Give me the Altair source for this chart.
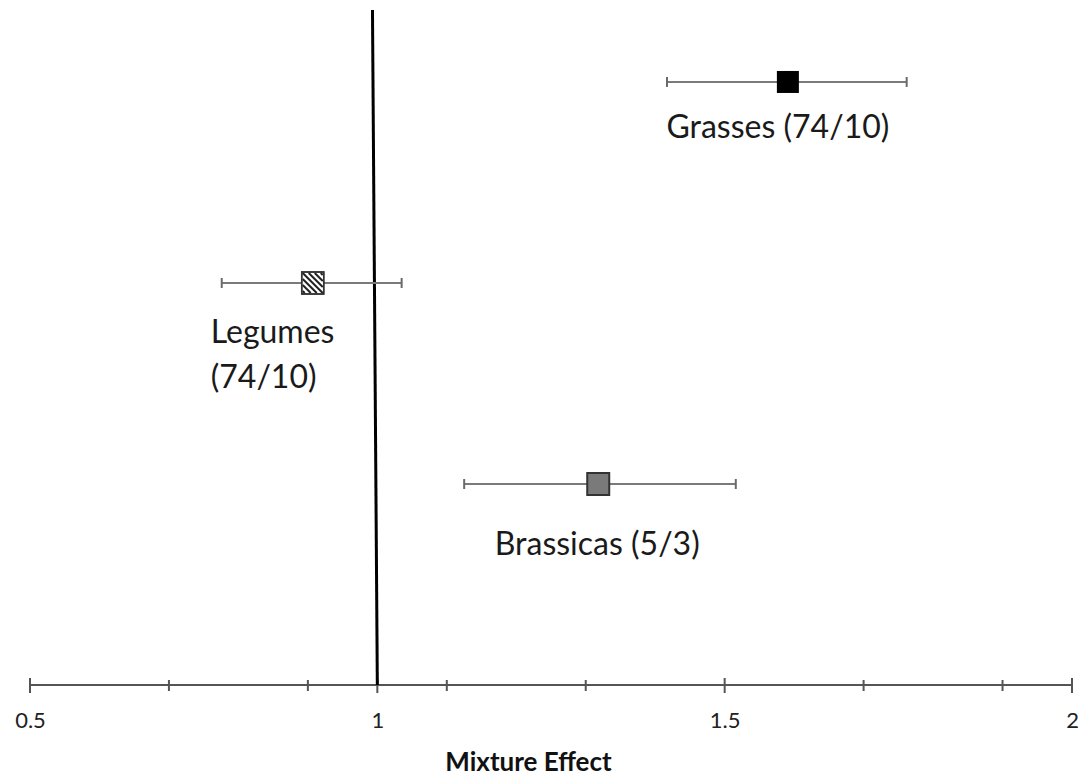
import altair as alt
import pandas as pd

# Mixture effect per crop group, with 95% confidence interval
groups = ["Grasses", "Legumes", "Brassicas"]
labels = ["Grasses (74/10)", "Legumes\n(74/10)", "Brassicas (5/3)"]
effect = [1.591, 0.907, 1.318]
ci_low = [1.417, 0.776, 1.125]
ci_high = [1.762, 1.035, 1.516]
row = [3, 2, 1]

# Axis ticks and labelled values
tick_minor = [0.7, 0.9, 1.1, 1.3, 1.7, 1.9]
tick_major = [0.5, 1.0, 1.5, 2.0]

# Reference line at "no effect" (drawn by hand, slightly leaning)
ref_x = [0.993, 1.0]
ref_y = [3.358, 0.0]

X_DOMAIN = [0.5, 2.0]
Y_DOMAIN = [0, 3.358]
FONT = "Lato"

df = pd.DataFrame({"group": groups, "label": labels, "effect": effect,
                   "lo": ci_low, "hi": ci_high, "row": row})

xs = alt.Scale(domain=X_DOMAIN, nice=False, zero=False)
ys = alt.Scale(domain=Y_DOMAIN, nice=False, zero=False)

base = alt.Chart(df)

x_axis = alt.Axis(values=tick_major, format="~g", grid=False, domain=False, ticks=False,
                  labelFlush=False, labelOverlap=False,
                  labelFont=FONT, labelFontSize=22, labelColor="#222222", labelPadding=25,
                  title="Mixture Effect", titleFont=FONT, titleFontSize=26,
                  titleFontWeight="bold", titleColor="#111111", titlePadding=18,
                  titleX=498, titleAlign="center")

# Horizontal axis line with ticks crossing it
axis_line = alt.Chart(pd.DataFrame({"a": [X_DOMAIN[0]], "b": [X_DOMAIN[1]]})).mark_rule(
    color="#555555", strokeWidth=2
).encode(
    x=alt.X("a:Q", scale=xs, axis=x_axis),
    x2="b:Q",
    y=alt.datum(0, scale=ys, axis=None),
)

minor_ticks = alt.Chart(pd.DataFrame({"t": tick_minor})).mark_rule(
    color="#555555", strokeWidth=2, yOffset=-5, y2Offset=6
).encode(x=alt.X("t:Q", scale=xs), y=alt.datum(0, scale=ys), y2=alt.datum(0))

major_ticks = alt.Chart(pd.DataFrame({"t": tick_major})).mark_rule(
    color="#555555", strokeWidth=2, yOffset=-7, y2Offset=8
).encode(x=alt.X("t:Q", scale=xs), y=alt.datum(0, scale=ys), y2=alt.datum(0))

ref_line = alt.Chart(pd.DataFrame({"x": [ref_x[0]], "y": [ref_y[0]],
                                   "x2": [ref_x[1]], "y2": [ref_y[1]]})).mark_rule(
    color="#000000", strokeWidth=3
).encode(x=alt.X("x:Q", scale=xs), y=alt.Y("y:Q", scale=ys), x2="x2:Q", y2="y2:Q")

# Confidence interval whiskers and caps
whisker = base.mark_rule(color="#7a7a7a", strokeWidth=2).encode(
    x=alt.X("lo:Q", scale=xs), x2="hi:Q", y=alt.Y("row:Q", scale=ys)
)
cap_lo = base.mark_rule(color="#6a6a6a", strokeWidth=2, yOffset=-5, y2Offset=5).encode(
    x=alt.X("lo:Q", scale=xs), y=alt.Y("row:Q", scale=ys), y2="row:Q"
)
cap_hi = base.mark_rule(color="#6a6a6a", strokeWidth=2, yOffset=-5, y2Offset=5).encode(
    x=alt.X("hi:Q", scale=xs), y=alt.Y("row:Q", scale=ys), y2="row:Q"
)

def marker(name, **mark):
    return base.transform_filter(alt.datum.group == name).mark_point(
        filled=True, opacity=1, size=484, **mark
    ).encode(x=alt.X("effect:Q", scale=xs), y=alt.Y("row:Q", scale=ys))

# Diagonal hatching for the legume square
hatch_path = ("M -0.4 -1 L 1 0.4 M 0.2 -1 L 1 -0.2 M 0.8 -1 L 1 -0.8 "
              "M -1 -1 L 1 1 M -1 -0.4 L 0.4 1 M -1 0.2 L -0.2 1 M -1 0.8 L -0.8 1")

grass_pt = marker("Grasses", shape="square", color="#000000")
legume_bg = marker("Legumes", shape="square", color="#ffffff", stroke="#333333", strokeWidth=1.5)
legume_hatch = base.transform_filter(alt.datum.group == "Legumes").mark_point(
    filled=False, size=400, shape=hatch_path, stroke="#222222", strokeWidth=2, opacity=1
).encode(x=alt.X("effect:Q", scale=xs), y=alt.Y("row:Q", scale=ys))
legume_edge = base.transform_filter(alt.datum.group == "Legumes").mark_point(
    filled=False, size=484, shape="square", stroke="#333333", strokeWidth=1.5, opacity=1
).encode(x=alt.X("effect:Q", scale=xs), y=alt.Y("row:Q", scale=ys))
brassica_pt = marker("Brassicas", shape="square", color="#7a7a7a", stroke="#333333", strokeWidth=2)

def label(name, **mark):
    return base.transform_filter(alt.datum.group == name).mark_text(
        font=FONT, fontSize=32, color="#1a1a1a", baseline="middle", lineBreak="\n", **mark
    ).encode(x=alt.X("effect:Q", scale=xs), y=alt.Y("row:Q", scale=ys), text="label:N")

grass_lab = label("Grasses", align="center", dx=-10, dy=46)
legume_lab = label("Legumes", align="left", dx=-102, dy=50, lineHeight=45)
brassica_lab = label("Brassicas", align="center", dx=-1, dy=61)

chart = alt.layer(
    axis_line, minor_ticks, major_ticks, ref_line,
    whisker, cap_lo, cap_hi,
    grass_pt, legume_bg, legume_hatch, legume_edge, brassica_pt,
    grass_lab, legume_lab, brassica_lab,
).properties(
    width=1042, height=675,
    background="#ffffff",
    autosize=alt.AutoSizeParams(type="none"),
    padding={"left": 30, "top": 10, "right": 9, "bottom": 92},
).configure_view(stroke=None, strokeWidth=0)

chart.save("out.html", embed_options={"renderer": "svg", "actions": False})
